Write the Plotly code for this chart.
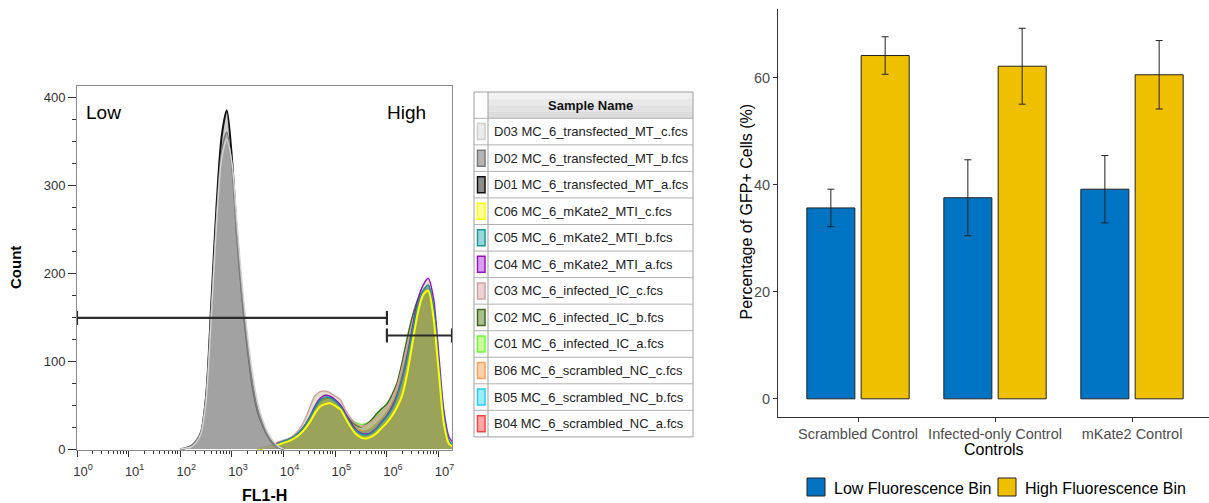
import plotly.graph_objects as go

W, H = 1209, 503
FONT = "Liberation Sans, Arial, sans-serif"

# ---------------- Histogram data (FL1-H, log10 bin centres) ----------------
gray_log = [2.0, 2.1, 2.2, 2.3, 2.4, 2.5, 2.6, 2.7, 2.8, 2.9, 3.0,
            3.1, 3.2, 3.3, 3.4, 3.5, 3.6, 3.7, 3.8, 3.9, 4.0]
d01_counts = [0, 1, 3, 8, 18, 60, 165, 275, 355, 385, 330,
              240, 170, 115, 70, 42, 26, 14, 6, 2, 0]
d02_counts = [0, 1, 3, 9, 20, 62, 160, 262, 338, 360, 318,
              238, 172, 118, 74, 45, 28, 15, 7, 2, 0]
d03_counts = [0, 1, 2, 7, 17, 55, 150, 255, 330, 352, 325,
              255, 185, 130, 85, 52, 32, 18, 9, 3, 0]

col_log = [3.5, 3.6, 3.7, 3.8, 3.9, 4.0, 4.1, 4.2, 4.3, 4.4, 4.5, 4.6, 4.7,
           4.8, 4.9, 5.0, 5.1, 5.2, 5.3, 5.4, 5.5, 5.6, 5.7, 5.8, 5.9, 6.0,
           6.1, 6.2, 6.3, 6.4, 6.5, 6.6, 6.7, 6.8, 6.9, 7.0, 7.1, 7.2, 7.3]
c06_counts = [0, 1, 2, 3, 5, 7, 9, 12, 16, 22, 30, 40, 48, 51, 52, 49, 45, 35, 25,
              17, 13, 12, 14, 18, 24, 30, 38, 48, 62, 88, 122, 155, 175, 180, 150,
              90, 30, 6, 2]
c05_counts = [0, 1, 2, 4, 6, 9, 11, 14, 19, 26, 35, 46, 55, 59, 58, 54, 48, 38, 28,
              21, 17, 16, 18, 23, 30, 37, 46, 60, 80, 105, 136, 164, 180, 186, 162,
              100, 38, 10, 3]
c04_counts = [0, 1, 2, 4, 7, 9, 11, 14, 19, 26, 36, 48, 57, 61, 60, 56, 50, 40, 30,
              22, 18, 17, 19, 24, 31, 38, 48, 62, 82, 108, 140, 170, 186, 194, 172,
              110, 45, 14, 6]
c03_counts = [1, 2, 3, 5, 8, 10, 12, 16, 22, 32, 46, 60, 65, 66, 64, 60, 56, 44, 35,
              29, 26, 27, 31, 36, 42, 48, 58, 72, 94, 120, 145, 165, 176, 178, 150,
              92, 32, 8, 2]
c02_counts = [0, 1, 2, 4, 6, 8, 10, 13, 18, 25, 35, 46, 54, 57, 58, 55, 50, 40, 32,
              27, 25, 28, 33, 40, 46, 51, 62, 76, 100, 128, 152, 170, 180, 186, 160,
              98, 35, 8, 2]
c01_counts = [0, 1, 2, 3, 6, 8, 10, 13, 18, 25, 34, 45, 53, 56, 57, 54, 49, 40, 33,
              30, 28, 29, 32, 38, 45, 52, 60, 74, 96, 124, 148, 168, 176, 172, 140,
              85, 28, 6, 1]
b06_counts = [0, 1, 2, 3, 5, 8, 10, 13, 18, 25, 34, 45, 54, 58, 58, 54, 49, 39, 30,
              24, 21, 21, 24, 29, 35, 42, 52, 66, 88, 115, 142, 166, 178, 180, 152,
              94, 34, 8, 2]
b05_counts = [0, 1, 2, 4, 6, 8, 10, 13, 18, 25, 34, 45, 53, 57, 57, 53, 47, 37, 28,
              22, 19, 19, 22, 27, 33, 40, 50, 64, 85, 112, 140, 165, 179, 183, 156,
              96, 35, 9, 2]
b04_counts = [0, 1, 2, 4, 6, 9, 11, 14, 19, 26, 35, 46, 54, 58, 58, 54, 48, 38, 29,
              23, 20, 20, 23, 28, 34, 41, 51, 65, 86, 114, 141, 165, 178, 182, 155,
              95, 34, 8, 2]

sample_names = [
    "D03 MC_6_transfected_MT_c.fcs", "D02 MC_6_transfected_MT_b.fcs",
    "D01 MC_6_transfected_MT_a.fcs", "C06 MC_6_mKate2_MTI_c.fcs",
    "C05 MC_6_mKate2_MTI_b.fcs", "C04 MC_6_mKate2_MTI_a.fcs",
    "C03 MC_6_infected_IC_c.fcs", "C02 MC_6_infected_IC_b.fcs",
    "C01 MC_6_infected_IC_a.fcs", "B06 MC_6_scrambled_NC_c.fcs",
    "B05 MC_6_scrambled_NC_b.fcs", "B04 MC_6_scrambled_NC_a.fcs",
]
sample_x = [gray_log, gray_log, gray_log] + [col_log] * 9
sample_counts = [d03_counts, d02_counts, d01_counts, c06_counts, c05_counts,
                 c04_counts, c03_counts, c02_counts, c01_counts, b06_counts,
                 b05_counts, b04_counts]
sample_line_colors = ["#d4d4d4", "#7a7a7a", "#111111", "#ffff00", "#17999a",
                      "#9a10c8", "#cfa3a3", "#3d6a1c", "#66ff33", "#ffa05a",
                      "#22ccff", "#ff4040"]
sample_swatch_fill = ["#ececec", "#b4b4b4", "#8c8c8c", "#ffff99", "#99d8d8",
                      "#d9a0f0", "#ecd2d2", "#a8bf8e", "#ccff99", "#ffd2ab",
                      "#9ceeff", "#ffa8a8"]
sample_line_width = [1.5, 1.5, 2, 2, 1.5, 1.5, 1.5, 1.5, 1.5, 1.5, 1.5, 1.5]

gate_low = [0.0, 6.0]
gate_low_y = 149
gate_high = [6.0, 7.26]
gate_high_y = 129

hist_xticks = [0, 1, 2, 3, 4, 5, 6, 7]
hist_yticks = [0, 100, 200, 300, 400]

# ---------------- Bar chart data ----------------
categories = ["Scrambled Control", "Infected-only Control", "mKate2 Control"]
low_bin = [35.7, 37.6, 39.2]
low_err = [3.5, 7.1, 6.3]
high_bin = [64.2, 62.2, 60.6]
high_err = [3.5, 7.1, 6.4]
bin_names = ["Low Fluorescence Bin", "High Fluorescence Bin"]
bin_colors = ["#0073C2", "#EFC000"]
bar_yticks = [0, 20, 40, 60]


def xp(px):
    return px / W


def yp(py):
    return 1 - py / H


fig = go.Figure()

for i in reversed(range(len(sample_names))):
    is_gray = i < 3
    fill = "rgba(145,145,145,0.45)" if is_gray else "rgba(152,158,84,0.3)"
    fig.add_trace(go.Scatter(
        x=[10 ** v for v in sample_x[i]], y=sample_counts[i],
        mode="lines", line=dict(color=sample_line_colors[i], width=sample_line_width[i],
                                shape="spline", smoothing=0.8),
        fill="tozeroy", fillcolor=fill, name=sample_names[i],
        xaxis="x", yaxis="y", showlegend=False, hoverinfo="skip"))

for g, gy in ((gate_low, gate_low_y), (gate_high, gate_high_y)):
    fig.add_trace(go.Scatter(
        x=[10 ** g[0], 10 ** g[1]], y=[gy, gy], mode="lines",
        line=dict(color="#2b2b2b", width=2.2), xaxis="x", yaxis="y",
        showlegend=False, hoverinfo="skip"))

shapes = []
for g, gy in ((gate_low, gate_low_y), (gate_high, gate_high_y)):
    for gx in g:
        shapes.append(dict(type="line", xref="x", yref="y", x0=10 ** gx, x1=10 ** gx,
                           ysizemode="pixel", yanchor=gy, y0=-7, y1=7,
                           line=dict(color="#2b2b2b", width=2.2)))

fig.add_trace(go.Bar(
    x=categories, y=low_bin, name=bin_names[0], marker=dict(color=bin_colors[0],
    line=dict(color="#222222", width=1)),
    error_y=dict(type="data", array=low_err, visible=True, color="#222222",
                 thickness=1, width=3.5),
    xaxis="x2", yaxis="y2", showlegend=False))
fig.add_trace(go.Bar(
    x=categories, y=high_bin, name=bin_names[1], marker=dict(color=bin_colors[1],
    line=dict(color="#222222", width=1)),
    error_y=dict(type="data", array=high_err, visible=True, color="#222222",
                 thickness=1, width=3.5),
    xaxis="x2", yaxis="y2", showlegend=False))

annotations = []
annotations += [
    dict(text="Low", x=xp(84), y=yp(113), xref="paper", yref="paper", xanchor="left",
         yanchor="middle", showarrow=False, font=dict(size=19, color="#000", family=FONT)),
    dict(text="High", x=xp(406), y=yp(113), xref="paper", yref="paper", xanchor="center",
         yanchor="middle", showarrow=False, font=dict(size=19, color="#000", family=FONT)),
    dict(text="<b>Count</b>", x=xp(15), y=yp(268), xref="paper", yref="paper",
         textangle=-90, showarrow=False, xanchor="center", yanchor="middle",
         font=dict(size=15, color="#000", family=FONT)),
    dict(text="<b>FL1-H</b>", x=xp(264), y=yp(495), xref="paper", yref="paper",
         showarrow=False, xanchor="center", yanchor="middle",
         font=dict(size=16, color="#000", family=FONT)),
]

# sample table
tx0, tx1, tx2 = 474, 488, 693
ty0, ty1 = 92, 118.3
row_h = 26.55
for k, col in enumerate(["#f1f1f1", "#e9e9e9", "#e2e2e2", "#dcdcdc"]):
    shapes.append(dict(type="rect", xref="paper", yref="paper", x0=xp(tx1), x1=xp(tx2),
                       y0=yp(ty0 + k * (ty1 - ty0) / 4), y1=yp(ty0 + (k + 1) * (ty1 - ty0) / 4),
                       fillcolor=col, line=dict(width=0), layer="below"))
annotations.append(dict(text="<b>Sample Name</b>", x=xp((tx1 + tx2) / 2),
                        y=yp((ty0 + ty1) / 2), xref="paper", yref="paper",
                        xanchor="center", yanchor="middle",
                        showarrow=False, font=dict(size=13, color="#111", family=FONT)))
n = len(sample_names)
ybot = ty1 + n * row_h
shapes.append(dict(type="rect", xref="paper", yref="paper", x0=xp(tx0), x1=xp(tx2),
                   y0=yp(ty0), y1=yp(ybot), line=dict(color="#a0a0a0", width=1)))
shapes.append(dict(type="line", xref="paper", yref="paper", x0=xp(tx1), x1=xp(tx1),
                   y0=yp(ty0), y1=yp(ybot), line=dict(color="#a0a0a0", width=1)))
for i, nm in enumerate(sample_names):
    top = ty1 + i * row_h
    shapes.append(dict(type="line", xref="paper", yref="paper", x0=xp(tx0), x1=xp(tx2),
                       y0=yp(top), y1=yp(top), line=dict(color="#b0b0b0", width=1)))
    cy = top + row_h / 2
    shapes.append(dict(type="rect", xref="paper", yref="paper", x0=xp(477.5), x1=xp(485),
                       y0=yp(cy - 8), y1=yp(cy + 8), fillcolor=sample_swatch_fill[i],
                       line=dict(color=sample_line_colors[i] if i != 0 else "#d0d0d0",
                                 width=1.5)))
    annotations.append(dict(text=nm, x=xp(492), y=yp(cy), xref="paper", yref="paper",
                            xanchor="left", yanchor="middle", showarrow=False,
                            font=dict(size=13, color="#222", family=FONT)))

annotations += [
    dict(text="Percentage of GFP+ Cells (%)", x=xp(745.5), y=yp(212), xref="paper",
         yref="paper", textangle=-90, showarrow=False, xanchor="center", yanchor="middle",
         font=dict(size=16, color="#000", family=FONT)),
    dict(text="Controls", x=xp(994), y=yp(449), xref="paper", yref="paper",
         showarrow=False, xanchor="center", yanchor="middle",
         font=dict(size=16, color="#000", family=FONT)),
]
leg_sq = [807, 998]
leg_tx = [832, 1023]
for k in range(2):
    shapes.append(dict(type="rect", xref="paper", yref="paper", x0=xp(leg_sq[k]),
                       x1=xp(leg_sq[k] + 18), y0=yp(478), y1=yp(496),
                       fillcolor=bin_colors[k], line=dict(color="#222", width=1)))
    annotations.append(dict(text=bin_names[k], x=xp(leg_tx[k]), y=yp(488), xref="paper",
                            yref="paper", xanchor="left", yanchor="middle", showarrow=False,
                            font=dict(size=16, color="#000", family=FONT)))

minor_vals = [m * 10 ** k for k in range(0, 8) for m in range(2, 10)]

fig.update_layout(
    width=W, height=H, autosize=False,
    margin=dict(l=0, r=0, t=0, b=0, pad=0, autoexpand=False),
    paper_bgcolor="white", plot_bgcolor="white",
    font=dict(family=FONT, color="#333"),
    barmode="group", bargap=0.207, bargroupgap=0.116,
    showlegend=False,
    shapes=shapes, annotations=annotations,
    xaxis=dict(domain=[xp(77), xp(452)], type="log", range=[0, 7.26],
               tickvals=[10 ** t for t in hist_xticks],
               ticktext=["10<sup>%d</sup>" % t for t in hist_xticks],
               ticks="outside", ticklen=6, tickcolor="#333", tickwidth=1,
               tickfont=dict(size=13, color="#333", family=FONT),
               ticklabelshift=6, ticklabelstandoff=3, automargin=False,
               minor=dict(tickvals=minor_vals, ticks="outside", ticklen=3,
                          tickcolor="#333", showgrid=False),
               showline=True, mirror=True, linecolor="#8c8c8c", linewidth=1,
               showgrid=False, zeroline=False, anchor="y"),
    yaxis=dict(domain=[yp(450), yp(86)], range=[-1.1, 412.5],
               tickvals=hist_yticks, ticks="outside", ticklen=8, tickcolor="#333",
               tickfont=dict(size=13, color="#333", family=FONT), automargin=False,
               minor=dict(dtick=25, ticks="outside", ticklen=4, tickcolor="#333",
                          showgrid=False),
               showline=True, mirror=True, linecolor="#8c8c8c", linewidth=1,
               showgrid=False, zeroline=False, anchor="x"),
    xaxis2=dict(domain=[xp(778), 1], type="category", range=[-0.584, 2.562],
                ticks="outside", ticklen=4, tickcolor="#333", automargin=False,
                tickfont=dict(size=14.5, color="#4d4d4d", family=FONT),
                showline=True, linecolor="#333", linewidth=1, showgrid=False,
                zeroline=False, anchor="y2"),
    yaxis2=dict(domain=[yp(417), yp(9)], range=[-3.4, 72.9], tickvals=bar_yticks,
                ticks="outside", ticklen=4, tickcolor="#333", automargin=False,
                tickfont=dict(size=14.5, color="#4d4d4d", family=FONT),
                showline=True, linecolor="#333", linewidth=1, showgrid=False,
                zeroline=False, anchor="x2"),
)

fig.write_html("out.html", config={"displayModeBar": False})
